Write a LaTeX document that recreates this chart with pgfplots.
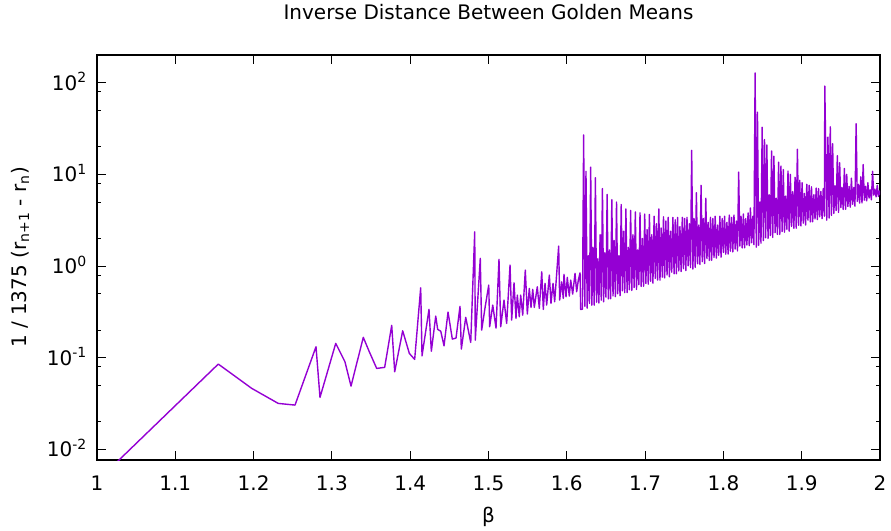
\documentclass[border=0pt]{standalone}
\usepackage{fontspec}
\setmainfont{DejaVu Sans}
\usepackage{pgfplots}
\pgfplotsset{compat=1.18}
\definecolor{gpviolet}{HTML}{9400D3}

\begin{document}
\begin{tikzpicture}
\path[use as bounding box] (-97bp,-71bp) rectangle (794bp,460bp);
\begin{axis}[
  at={(0,0)}, anchor=south west,
  scale only axis, width=783bp, height=405bp,
  ymode=log,
  xmin=1, xmax=2, ymin=0.00768, ymax=200.5,
  axis line style={line width=1.1bp, black},
  tick style={line width=0.9bp, black},
  major tick length=9bp, minor tick length=4.5bp,
  tick align=inside,
  xtick={1,1.1,1.2,1.3,1.4,1.5,1.6,1.7,1.8,1.9,2},
  xticklabels={1,1.1,1.2,1.3,1.4,1.5,1.6,1.7,1.8,1.9,2},
  ytick={0.01,0.1,1,10,100},
  yticklabels={10\textsuperscript{-2},10\textsuperscript{-1},10\textsuperscript{0},10\textsuperscript{1},10\textsuperscript{2}},
  minor ytick={0.02,0.05,0.08,0.2,0.5,0.8,2,5,8,20,50,80,200},
  every tick label/.append style={font=\fontsize{20bp}{24bp}\selectfont},
  xticklabel style={anchor=base, yshift=-30bp},
  yticklabel style={anchor=base east, inner sep=0pt, xshift=-10bp, yshift=-7.5bp},
  title={Inverse Distance Between Golden Means},
  title style={font=\fontsize{20bp}{24bp}\selectfont, at={(axis description cs:0.5,1.0914)}, anchor=center},
  xlabel={β},
  xlabel style={font=\fontsize{20bp}{24bp}\selectfont, at={(axis description cs:0.5,-0.1543)}, anchor=base},
  ylabel={1 / 1375 (r\textsubscript{n+1} - r\textsubscript{n})},
  ylabel style={font=\fontsize{20bp}{24bp}\selectfont, at={(axis description cs:-0.0983,0.5)}, anchor=center},
]
% sparse region below beta = 1.62, then the dense band up to 2
\addplot[gpviolet, line width=1.4bp, line join=round] table {
1.0000 0.0045
1.1549 0.0854
1.1976 0.0464
1.2315 0.0318
1.2529 0.0305
1.2797 0.132
1.2848 0.037
1.3049 0.1436
1.3167 0.0904
1.3244 0.0491
1.3401 0.167
1.3478 0.1162
1.3572 0.0766
1.3674 0.0786
1.3764 0.2256
1.3802 0.0704
1.3904 0.197
1.3989 0.1116
1.4057 0.096
1.4134 0.58
1.4151 0.105
1.4240 0.337
1.4270 0.118
1.4326 0.285
1.4351 0.204
1.4390 0.195
1.4432 0.135
1.4483 0.315
1.4538 0.160
1.4585 0.164
1.4636 0.3636
1.4653 0.1244
1.4709 0.2758
1.4773 0.147
1.4824 2.366
1.4831 0.156
1.4895 1.213
1.4913 0.2005
1.4955 0.348
1.5003 0.621
1.5015 0.218
1.5054 0.376
1.5096 0.211
1.5134 1.183
1.5156 0.218
1.5198 0.426
1.5232 0.237
1.5275 1.026
1.5296 0.2577
1.5326 0.658
1.5351 0.269
1.5368 0.483
1.5393 0.280
1.5411 0.483
1.5437 0.292
1.5470 0.904
1.5496 0.300
1.5521 0.571
1.5543 0.355
1.5565 0.557
1.5585 0.355
1.5623 0.595
1.5649 0.346
1.5680 0.867
1.5700 0.337
1.5722 0.648
1.5743 0.376
1.5777 0.798
1.5798 0.392
1.5824 0.648
1.5845 0.408
1.5896 1.652
1.5909 0.426
1.5935 0.674
1.5955 0.444
1.5964 0.812
1.5990 0.463
1.6006 0.753
1.6032 0.471
1.6050 0.703
1.6075 0.495
1.6105 0.833
1.6126 0.525
1.6147 0.703
1.6169 0.845
1.6177 0.337
1.6200 0.339
1.6215 27
1.6230 0.364
1.6245 10.8
1.6260 0.348
1.6275 1.3
1.6290 0.392
1.6305 12
1.6320 0.375
1.6335 1.6
1.6350 0.375
1.6365 9.2
1.6380 0.404
1.6395 1.2
1.6410 0.396
1.6425 2.2
1.6440 0.425
1.6455 7.0
1.6470 0.407
1.6485 1.4
1.6500 0.458
1.6515 6.05
1.6530 0.438
1.6545 1.5
1.6560 0.440
1.6575 5.3
1.6590 0.472
1.6605 1.9
1.6620 0.464
1.6635 5.0
1.6650 0.499
1.6665 1.3
1.6680 0.476
1.6695 4.7
1.6710 0.537
1.6725 2.4
1.6740 0.513
1.6755 4.2
1.6770 0.514
1.6785 1.6
1.6800 0.552
1.6815 4.05
1.6830 0.543
1.6845 2.2
1.6860 0.584
1.6875 3.9
1.6890 0.557
1.6905 1.5
1.6920 0.627
1.6935 3.8
1.6950 0.600
1.6965 2.0
1.6980 0.602
1.6995 3.7
1.7010 0.647
1.7025 2.5
1.7040 0.636
1.7055 3.65
1.7070 0.683
1.7085 2.2
1.7100 0.652
1.7115 3.5
1.7130 0.734
1.7145 2.9
1.7160 0.703
1.7175 4.2
1.7190 0.704
1.7205 2.6
1.7220 0.757
1.7235 3.45
1.7250 0.744
1.7265 3.1
1.7280 0.799
1.7295 3.4
1.7310 0.763
1.7325 2.4
1.7340 0.860
1.7355 3.4
1.7370 0.823
1.7385 3.2
1.7400 0.825
1.7415 3.4
1.7430 0.886
1.7445 2.7
1.7460 0.872
1.7475 3.4
1.7490 0.936
1.7505 3.3
1.7520 0.894
1.7535 3.4
1.7550 1.007
1.7565 2.9
1.7580 0.964
1.7595 18.3
1.7610 0.926
1.7625 3.3
1.7640 0.968
1.7655 6.3
1.7670 1.061
1.7685 2.8
1.7700 1.043
1.7715 7.6
1.7730 1.120
1.7745 3.3
1.7760 1.069
1.7775 5.5
1.7790 1.205
1.7805 3.0
1.7820 1.153
1.7835 3.4
1.7850 1.155
1.7865 3.3
1.7880 1.242
1.7895 3.5
1.7910 1.221
1.7925 2.8
1.7940 1.311
1.7955 3.5
1.7970 1.251
1.7985 3.3
1.8000 1.410
1.8015 3.5
1.8030 1.349
1.8045 3.0
1.8060 1.352
1.8075 3.6
1.8090 1.453
1.8105 3.4
1.8120 1.429
1.8135 3.6
1.8150 1.534
1.8165 3.1
1.8180 1.465
1.8195 10.6
1.8210 1.651
1.8225 3.5
1.8240 1.579
1.8255 3.7
1.8270 1.583
1.8285 3.3
1.8300 1.700
1.8315 3.8
1.8330 1.673
1.8345 4.3
1.8360 1.797
1.8375 3.5
1.8390 1.715
1.8405 128
1.8420 1.611
1.8435 47.7
1.8450 1.684
1.8465 5.0
1.8480 1.778
1.8495 32.7
1.8510 1.896
1.8525 24
1.8540 2.036
1.8555 21
1.8570 2.003
1.8585 6.0
1.8600 2.150
1.8615 18
1.8630 2.053
1.8645 15.8
1.8660 2.314
1.8675 5.5
1.8690 2.213
1.8705 13.6
1.8720 2.219
1.8735 12.3
1.8750 2.383
1.8765 11.3
1.8780 2.344
1.8795 5.8
1.8810 2.517
1.8825 10.9
1.8840 2.402
1.8855 10
1.8870 2.708
1.8885 6.5
1.8900 2.590
1.8915 9.3
1.8930 2.596
1.8945 18.8
1.8960 2.789
1.8975 8.6
1.8990 2.743
1.9005 8.1
1.9020 2.945
1.9035 6.2
1.9050 2.812
1.9065 7.8
1.9080 3.169
1.9095 7.6
1.9110 3.031
1.9125 7.3
1.9140 3.039
1.9155 6.0
1.9170 3.266
1.9185 7.1
1.9200 3.211
1.9215 7.0
1.9230 3.448
1.9245 6.5
1.9260 3.292
1.9275 7.0
1.9290 3.504
1.9295 92
1.9320 3.162
1.9335 25.5
1.9350 3.341
1.9365 33
1.9380 3.565
1.9395 21.6
1.9410 3.759
1.9425 7.5
1.9440 4.036
1.9455 16
1.9470 3.853
1.9485 13.4
1.9500 4.342
1.9515 7.2
1.9530 4.153
1.9545 11.6
1.9560 4.164
1.9575 10
1.9590 4.473
1.9605 7.4
1.9620 4.399
1.9635 9.1
1.9650 4.724
1.9665 7.2
1.9680 4.509
1.9695 35.7
1.9710 5.082
1.9725 7.8
1.9740 4.861
1.9755 9.4
1.9770 4.873
1.9785 12.8
1.9800 5.235
1.9815 7.4
1.9830 5.149
1.9845 8.1
1.9860 5.529
1.9875 6.8
1.9890 5.278
1.9905 10.8
1.9920 5.949
1.9935 6.9
1.9950 5.689
1.9965 7.6
1.9980 5.760
1.9995 6.6
2.0000 6.0
};
\end{axis}
\end{tikzpicture}
\end{document}
